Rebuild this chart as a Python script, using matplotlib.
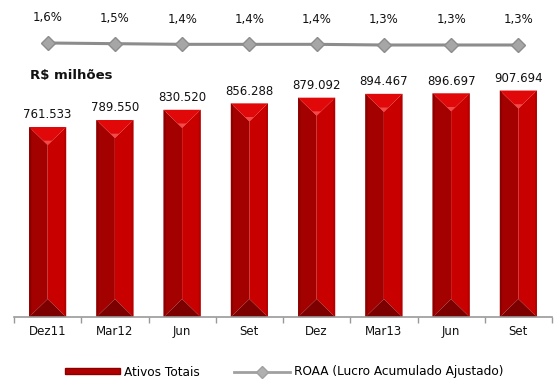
import numpy as np
import matplotlib.pyplot as plt
from matplotlib.patches import Polygon, Patch
from matplotlib.lines import Line2D

periods = ['Dez11', 'Mar12', 'Jun', 'Set', 'Dez', 'Mar13', 'Jun', 'Set']
ativos = [761533, 789550, 830520, 856288, 879092, 894467, 896697, 907694]
roaa = [1.6, 1.5, 1.4, 1.4, 1.4, 1.3, 1.3, 1.3]


def fmt_thousands(v):
    return '{:,}'.format(v).replace(',', '.')


def fmt_pct(v):
    return '{:.1f}%'.format(v).replace('.', ',')


W, H = 555, 383
fig = plt.figure(figsize=(W / 100, H / 100), dpi=100)

# bars: axis spans x 14..552 px, baseline at y=317 px
ax_h_px = 317 - 60
ax = fig.add_axes([14 / W, (H - 317) / H, 538 / W, ax_h_px / H])
ymax = 761533 / 190 * ax_h_px
ax.set_ylim(0, ymax)
ax.set_xlim(-0.5, len(periods) - 0.5)

bw = 0.55
d = 18 * ymax / ax_h_px  # bevel depth, ~18 px
x = np.arange(len(periods))
for xi, v in zip(x, ativos):
    x0, x1, xc = xi - bw / 2, xi + bw / 2, xi
    # left/right faces, then top and bottom bevel triangles
    ax.add_patch(Polygon([(x0, 0), (xc, d), (xc, v - d), (x0, v)], fc='#a30000', ec='none'))
    ax.add_patch(Polygon([(x1, 0), (xc, d), (xc, v - d), (x1, v)], fc='#c90000', ec='none'))
    ax.add_patch(Polygon([(x0, v), (x1, v), (xc, v - d)], fc='#e00808', ec='none'))
    ax.add_patch(Polygon([(xc - bw * 0.12, v - d * 0.76), (xc + bw * 0.12, v - d * 0.76),
                          (xc, v - d)], fc='#f24a4a', ec='none'))
    ax.add_patch(Polygon([(x0, 0), (x1, 0), (xc, d)], fc='#7c0000', ec='none'))
    # darker outer strips
    ax.add_patch(Polygon([(x0, 0), (x0 + bw * 0.06, d * 0.12),
                          (x0 + bw * 0.06, v - d * 0.12), (x0, v)], fc='#8d0000', ec='none'))
    ax.add_patch(Polygon([(x1, 0), (x1 - bw * 0.05, d * 0.1),
                          (x1 - bw * 0.05, v - d * 0.1), (x1, v)], fc='#b30000', ec='none'))
    ax.annotate(fmt_thousands(v), (xi, v), xytext=(0, 4), textcoords='offset points',
                ha='center', va='bottom', fontsize=8.5, color='#111111')

for s in ['top', 'right', 'left']:
    ax.spines[s].set_visible(False)
ax.spines['bottom'].set_color('#999999')
ax.spines['bottom'].set_linewidth(1.2)
ax.set_yticks([])
ax.set_xticks(x)
ax.set_xticklabels(periods, fontsize=8.5, color='#111111')
ax.set_xticks(np.arange(len(periods) + 1) - 0.5, minor=True)
ax.tick_params(axis='x', which='major', length=0, pad=6)
ax.tick_params(axis='x', which='minor', length=4, color='#999999', width=1)

fig.text(30 / W, 1 - 76 / H, 'R$ milhões', fontsize=9.5, fontweight='bold',
         ha='left', va='center', color='#111111')

# ROAA line on its own strip above the bars
ax2 = fig.add_axes([14 / W, 1 - 60 / H, 538 / W, 40 / H])
ax2.set_xlim(-0.5, len(periods) - 0.5)
ax2.set_ylim(-0.95, 5.05)
ax2.plot(x, roaa, color='#8c8c8c', lw=2.2, marker='D', ms=7.5,
         mfc='#a6a6a6', mec='#8c8c8c', mew=1)
for xi, v in zip(x, roaa):
    ax2.annotate(fmt_pct(v), (xi, v), xytext=(0, 18), textcoords='offset points',
                 ha='center', va='center', fontsize=8.5, color='#111111')
ax2.axis('off')

handles = [Patch(fc='#b00000', ec='#8a0000'),
           Line2D([], [], color='#a0a0a0', lw=2, marker='D', ms=6,
                  mfc='#b0b0b0', mec='#a0a0a0')]
fig.legend(handles, ['Ativos Totais', 'ROAA (Lucro Acumulado Ajustado)'],
           loc='center', bbox_to_anchor=(284 / W, 1 - 372 / H), ncol=2, frameon=False,
           fontsize=8.7, handlelength=4.6, handleheight=0.45, columnspacing=2.8,
           handletextpad=0.35)

fig.savefig('out.png', dpi=100)
